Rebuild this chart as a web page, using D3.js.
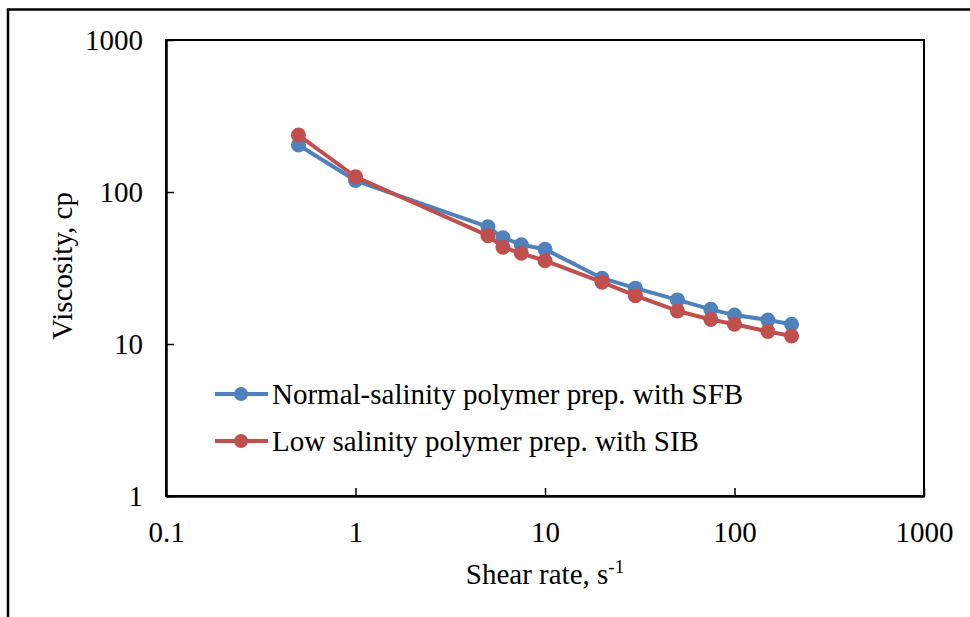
<!DOCTYPE html>
<html>
<head>
<meta charset="utf-8">
<script src="https://cdn.jsdelivr.net/npm/d3@7"></script>
<style>
  body { margin: 0; background: #fff; }
  svg text { font-family: "Liberation Serif", "Times New Roman", serif; fill: #000; }
</style>
</head>
<body>
<div id="chart"></div>
<script>
// shear rate (1/s) and viscosity (cp)
var shearRate = [0.5, 1, 5, 6, 7.5, 10, 20, 30, 50, 75, 100, 150, 200];
var normalSalinity = [204, 119, 59, 50, 45, 42, 27.1, 23.3, 19.5, 16.9, 15.5, 14.4, 13.5];
var lowSalinity = [237, 126, 51.6, 43.3, 39.5, 35.3, 25.5, 20.8, 16.5, 14.5, 13.5, 12.1, 11.3];
var seriesNames = ["Normal-salinity polymer prep. with SFB", "Low salinity polymer prep. with SIB"];
var seriesColors = ["#4F81BD", "#C0504D"];
var xTicks = [0.1, 1, 10, 100, 1000];
var yTicks = [1, 10, 100, 1000];

var width = 970, height = 617;
var margin = { left: 166, right: 46, top: 40, bottom: 121 };
var plotW = width - margin.left - margin.right;
var plotH = height - margin.top - margin.bottom;
var fontSize = 29;

var svg = d3.select("#chart").append("svg")
    .attr("width", width)
    .attr("height", height);

// outer border (only left and top visible)
svg.append("path")
    .attr("d", "M8,617 L8,9.5 L970,9.5")
    .attr("fill", "none")
    .attr("stroke", "#000")
    .attr("stroke-width", 2.5);

var x = d3.scaleLog().domain([0.1, 1000]).range([0, plotW]);
var y = d3.scaleLog().domain([1, 1000]).range([plotH, 0]);

var g = svg.append("g")
    .attr("transform", "translate(" + margin.left + "," + margin.top + ")");

// frame around plot area
g.append("rect")
    .attr("width", plotW)
    .attr("height", plotH)
    .attr("fill", "none")
    .attr("stroke", "#000")
    .attr("stroke-width", 2);

// x axis, ticks pointing inward
var xAxis = g.append("g")
    .attr("transform", "translate(0," + plotH + ")")
    .call(d3.axisBottom(x).tickValues(xTicks).tickSizeInner(-8).tickSizeOuter(0)
        .tickFormat(function(d) { return d3.format("~g")(d); }));
xAxis.select(".domain").attr("stroke-width", 2.5);
xAxis.selectAll(".tick line").attr("stroke-width", 1.5);
xAxis.selectAll(".tick text")
    .attr("y", 46)
    .attr("dy", 0)
    .attr("font-size", fontSize);

// y axis
var yAxis = g.append("g")
    .call(d3.axisLeft(y).tickValues(yTicks).tickSizeInner(-8).tickSizeOuter(0)
        .tickFormat(function(d) { return d3.format("~g")(d); }));
yAxis.select(".domain").attr("stroke-width", 2.5);
yAxis.selectAll(".tick line").attr("stroke-width", 1.5);
yAxis.selectAll(".tick text")
    .attr("x", -23)
    .attr("dy", "0.34em")
    .attr("font-size", fontSize);

// axis titles
var xTitle = svg.append("text")
    .attr("x", margin.left + plotW / 2)
    .attr("y", 584)
    .attr("text-anchor", "middle")
    .attr("font-size", fontSize);
xTitle.append("tspan").text("Shear rate, s");
xTitle.append("tspan").attr("font-size", 19).attr("dy", -11).text("-1");

svg.append("text")
    .attr("transform", "translate(72," + (margin.top + 226) + ") rotate(-90)")
    .attr("text-anchor", "middle")
    .attr("font-size", fontSize)
    .text("Viscosity, cp");

// series
var seriesData = [normalSalinity, lowSalinity];
var line = d3.line()
    .x(function(d) { return x(d[0]); })
    .y(function(d) { return y(d[1]); });

seriesData.forEach(function(vals, i) {
    var pts = shearRate.map(function(s, j) { return [s, vals[j]]; });
    g.append("path")
        .datum(pts)
        .attr("d", line)
        .attr("fill", "none")
        .attr("stroke", seriesColors[i])
        .attr("stroke-width", 4)
        .attr("stroke-linejoin", "round");
    g.selectAll(".pt" + i)
        .data(pts)
        .enter()
        .append("circle")
        .attr("class", "pt" + i)
        .attr("cx", function(d) { return x(d[0]); })
        .attr("cy", function(d) { return y(d[1]); })
        .attr("r", 7.5)
        .attr("fill", seriesColors[i]);
});

// legend
var legend = svg.append("g").attr("transform", "translate(215,394)");
seriesNames.forEach(function(name, i) {
    var row = legend.append("g").attr("transform", "translate(0," + (i * 47) + ")");
    row.append("line")
        .attr("x1", 0).attr("x2", 53)
        .attr("stroke", seriesColors[i])
        .attr("stroke-width", 4);
    row.append("circle")
        .attr("cx", 26).attr("r", 7)
        .attr("fill", seriesColors[i]);
    row.append("text")
        .attr("x", 57)
        .attr("dy", "0.34em")
        .attr("font-size", fontSize)
        .text(name);
});
</script>
</body>
</html>
